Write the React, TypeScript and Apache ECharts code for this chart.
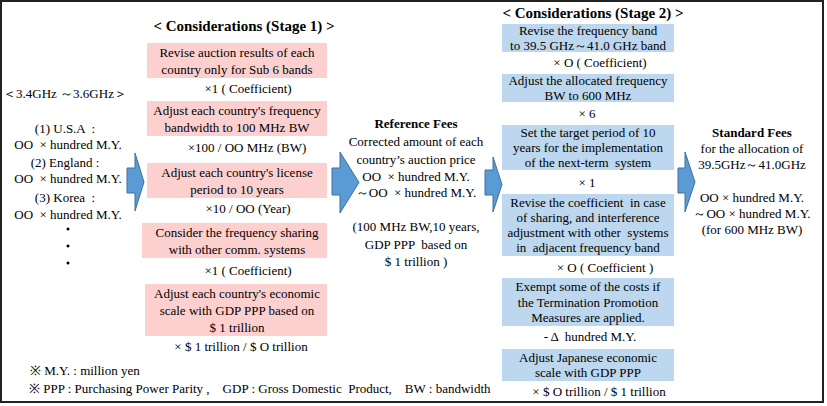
import React, { useEffect, useRef } from "react";
import * as echarts from "echarts";

// ---- content (text only) ----
const stage1Title = "< Considerations (Stage 1) >";
const stage2Title = "< Considerations (Stage 2) >";
const bandLabel = "\uFF1C3.4GHz \uFF5E3.6GHz\uFF1E";
const countryLines = [
  "(1) U.S.A  :",
  "OO  × hundred M.Y.",
  "(2) England :",
  "OO  × hundred M.Y.",
  "(3) Korea  :",
  "OO  × hundred M.Y.",
];
const stage1Steps = [
  ["Revise auction results of each", "country only for Sub 6 bands"],
  ["Adjust each country's frequency", "bandwidth to 100 MHz BW"],
  ["Adjust each country's license", "period to 10 years"],
  ["Consider the frequency sharing", "with other comm. systems"],
  ["Adjust each country's economic", "scale with GDP PPP based on", "$ 1 trillion"],
];
const stage1Factors = [
  "×1 ( Coefficient)",
  "×100 / OO MHz (BW)",
  "×10 / OO (Year)",
  "×1 ( Coefficient)",
  "× $ 1 trillion / $ O trillion",
];
const referenceTitle = "Reference Fees";
const referenceLines = [
  "Corrected amount of each",
  "country’s auction price",
  "OO  × hundred M.Y.",
  "～OO  × hundred M.Y.",
  "",
  "(100 MHz BW,10 years,",
  "GDP PPP  based on",
  "$ 1 trillion )",
];
const stage2Steps = [
  ["Revise the frequency band", "to 39.5 GHz～41.0 GHz band"],
  ["Adjust the allocated frequency", "BW to 600 MHz"],
  ["Set the target period of 10", "years for the implementation", "of the next-term  system"],
  ["Revise the coefficient  in case", "of sharing, and interference", "adjustment with other  systems", "in  adjacent frequency band"],
  ["Exempt some of the costs if", "the Termination Promotion", "Measures are applied."],
  ["Adjust Japanese economic", "scale with GDP PPP"],
];
const stage2Factors = [
  "× O ( Coefficient)",
  "× 6",
  "× 1",
  "× O ( Coefficient )",
  "- Δ  hundred M.Y.",
  "× $ O trillion / $ 1 trillion",
];
const standardTitle = "Standard Fees";
const standardLines = [
  "for the allocation of",
  "39.5GHz～41.0GHz",
  "",
  "OO × hundred M.Y.",
  "～OO × hundred M.Y.",
  "(for 600 MHz BW)",
];
const notes = [
  "※ M.Y. : million yen",
  "※ PPP : Purchasing Power Parity ,    GDP : Gross Domestic  Product,    BW : bandwidth",
];

// ---- layout ----
const FONT = "Liberation Serif";
const s1Boxes = [
  { x: 147, y: 43, w: 180, h: 35 },
  { x: 147, y: 101, w: 180, h: 35 },
  { x: 147, y: 163, w: 180, h: 35 },
  { x: 142, y: 223, w: 185, h: 35 },
  { x: 145, y: 284, w: 182, h: 52 },
];
const s1FactorPos = [
  { x: 248, y: 88 },
  { x: 247, y: 147 },
  { x: 248, y: 208 },
  { x: 248, y: 270 },
  { x: 241, y: 346 },
];
const s2Boxes = [
  { y: 24, h: 28 },
  { y: 74, h: 28 },
  { y: 125, h: 45 },
  { y: 194, h: 62 },
  { y: 278, h: 48 },
  { y: 349, h: 32 },
];
const s2FactorPos = [
  { x: 600, y: 62 },
  { x: 587, y: 113 },
  { x: 587, y: 182 },
  { x: 605, y: 267 },
  { x: 590, y: 336 },
  { x: 599, y: 391 },
];
const arrows = [
  { x0: 127, x1: 135, x2: 144, top: 153, bot: 211, st: 168, sb: 193 },
  { x0: 332, x1: 340, x2: 359, top: 152, bot: 213, st: 168, sb: 195 },
  { x0: 485, x1: 493, x2: 502, top: 157, bot: 212, st: 170, sb: 195 },
  { x0: 678, x1: 685, x2: 695, top: 152, bot: 212, st: 168, sb: 193 },
];

function txt(text: string, x: number, y: number, size = 13, bold = false, align = "center") {
  return {
    type: "text",
    x,
    y,
    silent: true,
    style: {
      text,
      fontSize: size,
      fontWeight: bold ? "bold" : "normal",
      fontFamily: FONT,
      fill: "#000",
      textAlign: align,
      textVerticalAlign: "middle",
      align,
      verticalAlign: "middle",
    },
  };
}

function buildGraphics() {
  const g: any[] = [];
  g.push({
    type: "rect",
    shape: { x: 1, y: 1, width: 822, height: 401 },
    style: { fill: "#fff", stroke: "#222", lineWidth: 2 },
  });

  g.push(txt(bandLabel, 65, 93));
  const leftY = [128, 144, 162, 178, 197, 214];
  countryLines.forEach((t, i) => g.push(txt(t, i % 2 === 0 ? 65 : 68, leftY[i])));
  [229, 246, 263].forEach((y) =>
    g.push({ type: "circle", shape: { cx: 68, cy: y, r: 1.5 }, style: { fill: "#000" } })
  );

  g.push(txt(stage1Title, 244, 26, 15, true));
  stage1Steps.forEach((lines, i) => {
    const b = s1Boxes[i];
    g.push({ type: "rect", shape: { x: b.x, y: b.y, width: b.w, height: b.h }, style: { fill: "#fdd0d0" } });
    const lh = 17;
    const cy = b.y + b.h / 2;
    const start = cy - ((lines.length - 1) * lh) / 2;
    lines.forEach((l, j) => g.push(txt(l, 237, start + j * lh)));
    g.push(txt(stage1Factors[i], s1FactorPos[i].x, s1FactorPos[i].y));
  });

  g.push(txt(referenceTitle, 416, 123, 13, true));
  const refY = [141, 159, 176, 192, 0, 226, 244, 261];
  referenceLines.forEach((t, i) => {
    if (t) g.push(txt(t, 416, refY[i]));
  });

  g.push(txt(stage2Title, 593, 13, 15, true));
  stage2Steps.forEach((lines, i) => {
    const b = s2Boxes[i];
    g.push({ type: "rect", shape: { x: 502, y: b.y, width: 172, height: b.h }, style: { fill: "#bdd7ee" } });
    const lh = 15.3;
    const cy = b.y + b.h / 2;
    const start = cy - ((lines.length - 1) * lh) / 2;
    lines.forEach((l, j) => g.push(txt(l, 588, start + j * lh)));
    g.push(txt(stage2Factors[i], s2FactorPos[i].x, s2FactorPos[i].y));
  });

  g.push(txt(standardTitle, 752, 132, 13, true));
  const stdY = [148, 164, 0, 197, 213, 229];
  standardLines.forEach((t, i) => {
    if (t) g.push(txt(t, 752, stdY[i]));
  });

  arrows.forEach((a) => {
    const mid = (a.top + a.bot) / 2;
    g.push({
      type: "polygon",
      shape: {
        points: [
          [a.x0, a.st],
          [a.x1, a.st],
          [a.x1, a.top],
          [a.x2, mid],
          [a.x1, a.bot],
          [a.x1, a.sb],
          [a.x0, a.sb],
        ],
      },
      style: { fill: "#5b9bd5", stroke: "#41719c", lineWidth: 1 },
    });
  });

  g.push(txt(notes[0], 30, 370, 13, false, "left"));
  g.push(txt(notes[1], 29, 388, 13, false, "left"));
  return g;
}

export default function App() {
  const ref = useRef<HTMLDivElement>(null);
  useEffect(() => {
    document.body.style.margin = "0";
    const chart = echarts.init(ref.current!, undefined, { renderer: "svg" });
    chart.setOption({
      animation: false,
      backgroundColor: "#fff",
      graphic: { elements: buildGraphics() },
    });
    return () => chart.dispose();
  }, []);
  return <div ref={ref} style={{ position: "absolute", left: 0, top: 0, width: 827, height: 406 }} />;
}
